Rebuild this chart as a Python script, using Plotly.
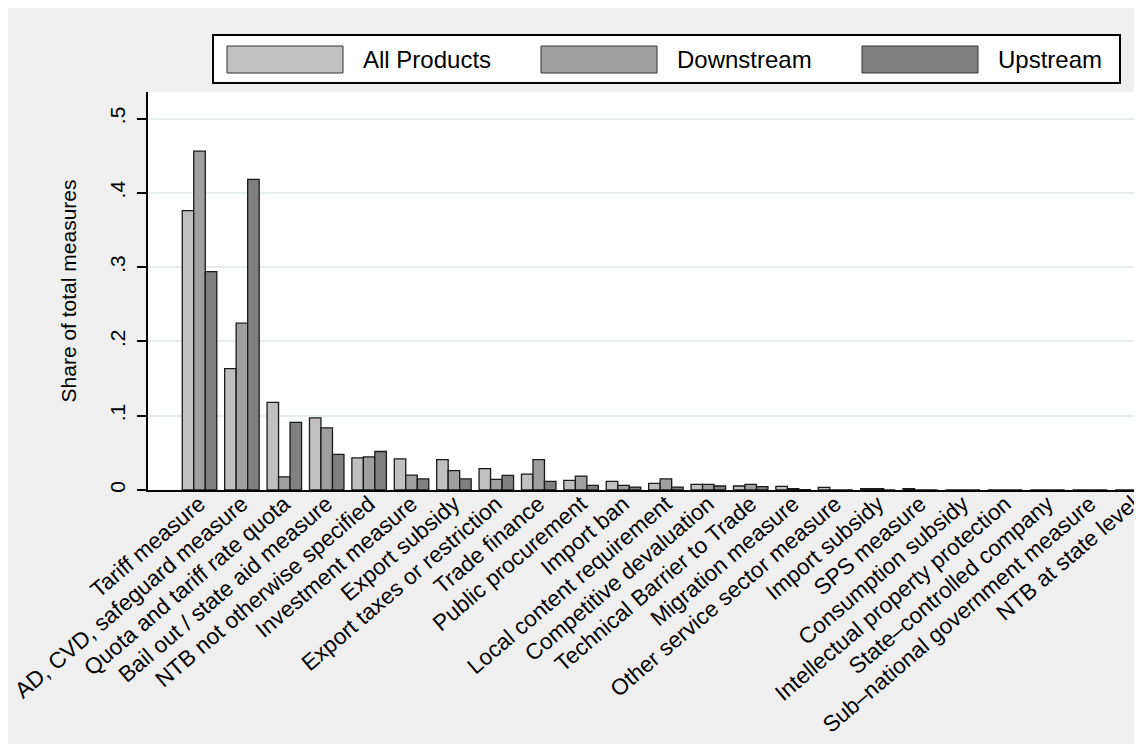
import plotly.graph_objects as go

categories = [
    "Tariff measure", "AD, CVD, safeguard measure", "Quota and tariff rate quota",
    "Bail out / state aid measure", "NTB not otherwise specified", "Investment measure",
    "Export subsidy", "Export taxes or restriction", "Trade finance", "Public procurement",
    "Import ban", "Local content requirement", "Competitive devaluation",
    "Technical Barrier to Trade", "Migration measure", "Other service sector measure",
    "Import subsidy", "SPS measure", "Consumption subsidy", "Intellectual property protection",
    "State\u2013controlled company", "Sub\u2013national government measure", "NTB at state level",
]
all_products = [0.376, 0.1635, 0.118, 0.097, 0.0432, 0.042, 0.041, 0.0287, 0.0215, 0.013,
                0.0117, 0.009, 0.0077, 0.0054, 0.0048, 0.0036, 0.0018, 0.0018, 0, 0, 0, 0, 0]
downstream = [0.456, 0.2245, 0.0176, 0.0836, 0.0445, 0.0199, 0.026, 0.0143, 0.041, 0.0188,
              0.0063, 0.015, 0.0077, 0.0077, 0.0018, 0.0, 0.0018, 0.0, 0, 0, 0, 0, 0]
upstream = [0.294, 0.418, 0.091, 0.048, 0.0518, 0.015, 0.015, 0.0197, 0.0117, 0.0063,
            0.004, 0.004, 0.0054, 0.0045, 0.0005, 0.0, 0.0, 0.0, 0, 0, 0, 0, 0]
series_names = ["All Products", "Downstream", "Upstream"]
series_colors = ["#c0c0c0", "#a0a0a0", "#808080"]
y_ticks = [0, 0.1, 0.2, 0.3, 0.4, 0.5]
y_tick_text = ["0", ".1", ".2", ".3", ".4", ".5"]

FONT = "Liberation Sans, Arial, Helvetica, sans-serif"

fig = go.Figure()
for name, vals, col in zip(series_names, [all_products, downstream, upstream], series_colors):
    fig.add_trace(go.Bar(
        x=categories, y=vals, name=name, marker_color=col,
        marker_line_color="#1a1a1a", marker_line_width=1.3, showlegend=False,
    ))

# page body margin offsets the figure by 8px; coordinates below are figure pixels
W, H = 1142, 744
ml, mr, mt, mb = 140, 0, 84, 262
pw, ph = W - ml - mr, H - mt - mb

def px_x(x):
    return (x - ml) / pw

def px_y(y):
    return (H - mb - y) / ph

shapes = []
annotations = []
# legend box
shapes.append(dict(type="rect", xref="paper", yref="paper", x0=px_x(205), x1=px_x(1112), y0=px_y(27), y1=px_y(75),
                   fillcolor="white", line=dict(color="black", width=2)))
sw_x = [219, 533, 854]
for sx, col, name in zip(sw_x, series_colors, series_names):
    shapes.append(dict(type="rect", xref="paper", yref="paper", x0=px_x(sx), x1=px_x(sx + 116),
                       y0=px_y(38), y1=px_y(65), fillcolor=col, line=dict(color="#333333", width=1)))
    annotations.append(dict(xref="paper", yref="paper", x=px_x(sx + 134), y=px_y(51.5), text=name,
                            showarrow=False, xanchor="left", yanchor="middle",
                            font=dict(family=FONT, size=24, color="black")))

fig.update_layout(
    width=W, height=H,
    margin=dict(l=ml, r=mr, t=mt, b=mb, pad=0, autoexpand=False),
    paper_bgcolor="#efefef", plot_bgcolor="white",
    barmode="group", bargap=0.186, bargroupgap=0,
    font=dict(family=FONT, size=21, color="black"),
    shapes=shapes, annotations=annotations,
)
fig.update_xaxes(
    type="category", range=[-1.215, 22.417], automargin=False,
    tickangle=-40.5, ticks="", showgrid=False,
    showline=True, linecolor="black", linewidth=2,
    tickfont=dict(family=FONT, size=22.5, color="black"),
    ticklabelstandoff=-10,
)
fig.update_yaxes(
    range=[0, 0.5357], tickvals=y_ticks, ticktext=y_tick_text, automargin=False,
    tickangle=-90, ticks="outside", ticklen=9, tickwidth=2, tickcolor="black",
    showline=True, linecolor="black", linewidth=2,
    showgrid=True, gridcolor="#e6eef0", gridwidth=2, zeroline=False,
    tickfont=dict(family=FONT, size=21, color="black"),
    ticklabelstandoff=4,
    title=dict(text="Share of total measures", font=dict(family=FONT, size=21, color="black"), standoff=23),
)

fig.write_html("out.html")
